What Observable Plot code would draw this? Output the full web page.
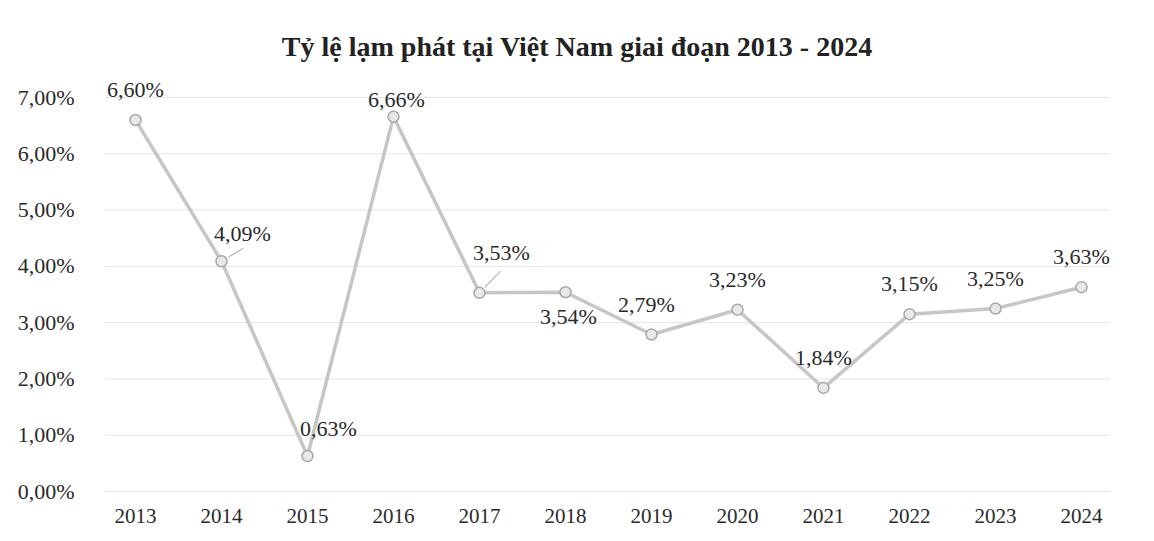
<!DOCTYPE html>
<html>
<head>
<meta charset="utf-8">
<script src="https://cdn.jsdelivr.net/npm/d3@7"></script>
<script src="https://cdn.jsdelivr.net/npm/@observablehq/plot@0.6"></script>
<style>
  html, body { margin: 0; padding: 0; background: #fff; }
  #title { height: 70px; box-sizing: border-box; padding-top: 31px; line-height: 32px;
           text-align: center; font-family: 'Liberation Serif', 'Times New Roman', serif;
           font-weight: bold; font-size: 28px; color: #222; }
  #chart svg { display: block; }
</style>
</head>
<body>
<div id="title">Tỷ lệ lạm phát tại Việt Nam giai đoạn 2013 - 2024</div>
<div id="chart"></div>
<script>
const years = ["2013","2014","2015","2016","2017","2018","2019","2020","2021","2022","2023","2024"];
const inflation = [6.60, 4.09, 0.63, 6.66, 3.53, 3.54, 2.79, 3.23, 1.84, 3.15, 3.25, 3.63];
const labelPlacement = ["above","right","right","near","high","below","aboveLeft","above","above","above","above","above"];
const yTicks = [0,1,2,3,4,5,6,7];

const fmt = v => v.toFixed(2).replace(".", ",") + "%";
const data = years.map((year, i) => ({year, value: inflation[i], place: labelPlacement[i]}));

const font = "Liberation Serif";
const offsets = {
  above: {dx: 0, dy: -30},
  aboveLeft: {dx: -5, dy: -30},
  right: {dx: 21, dy: -27},
  high: {dx: 22, dy: -40},
  near: {dx: 3, dy: -17},
  below: {dx: 3, dy: 25}
};

const labelMarks = Object.entries(offsets).map(([key, o]) =>
  Plot.text(data.filter(d => d.place === key), {
    x: "year", y: "value", text: d => fmt(d.value),
    dx: o.dx, dy: o.dy, fontSize: 22, fill: "#2a2a2a", fontFamily: font
  })
);

const leader = {
  draw(context, l) {
    context.moveTo(0, -8);
    context.lineTo(0, -l);
  }
};

const chart = Plot.plot({
  width: 1154,
  height: 471,
  marginLeft: 105,
  marginRight: 44,
  marginTop: 27,
  marginBottom: 50,
  style: {fontFamily: font, fontSize: "22px", color: "#2a2a2a", background: "#fff"},
  x: {type: "point", domain: years, padding: 0.289, label: null, tickSize: 0, tickPadding: 17},
  y: {domain: [0, 7], ticks: yTicks, tickFormat: fmt, label: null, tickSize: 0, tickPadding: 31},
  marks: [
    Plot.ruleY(yTicks, {stroke: "#e6e6e6", strokeWidth: 1}),
    Plot.line(data, {x: "year", y: "value", stroke: "#c6c6c6", strokeWidth: 3.5}),
    Plot.vector(data.filter(d => d.year === "2014"), {
      x: "year", y: "value", length: 25, rotate: 59, anchor: "start",
      shape: leader, stroke: "#a8a8a8", strokeWidth: 1
    }),
    Plot.vector(data.filter(d => d.year === "2017"), {
      x: "year", y: "value", length: 30, rotate: 44, anchor: "start",
      shape: leader, stroke: "#a8a8a8", strokeWidth: 1
    }),
    Plot.dot(data, {x: "year", y: "value", r: 5.5, fill: "#e8e8e8", stroke: "#a8a8a8", strokeWidth: 1.5}),
    ...labelMarks
  ]
});
chart.querySelectorAll("g[aria-label='x-axis tick label']").forEach(g => g.setAttribute("font-size", 21));
document.getElementById("chart").appendChild(chart);
</script>
</body>
</html>
